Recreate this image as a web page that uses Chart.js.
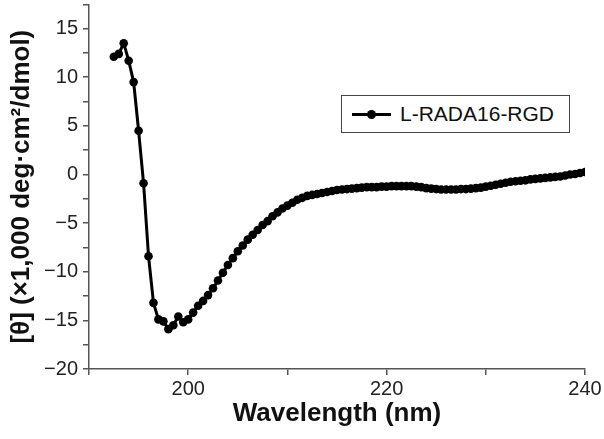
<!DOCTYPE html>
<html>
<head>
<meta charset="utf-8">
<script src="https://cdn.jsdelivr.net/npm/chart.js@4.4.1/dist/chart.umd.min.js"></script>
<style>
  html, body { margin: 0; padding: 0; background: #fff; }
  #wrap { position: relative; width: 604px; height: 439px; }
  #legend { position: absolute; left: 341px; top: 95px; width: 229px; height: 38px;
    border: 1px solid #444; box-sizing: border-box; background: #fff;
    font-family: "Liberation Sans", Arial, sans-serif; font-size: 21px; color: #111; }
  #legend .ln { position: absolute; left: 10px; top: 17px; width: 39px; height: 3px; background: #000; }
  #legend .dot { position: absolute; left: 25px; top: 14px; width: 9px; height: 9px; border-radius: 50%; background: #000; }
  #legend .tx { position: absolute; left: 58px; top: 5px; line-height: 26px; }
</style>
</head>
<body>
<div id="wrap">
  <canvas id="c" width="604" height="439"></canvas>
  <div id="legend"><div class="ln"></div><div class="dot"></div><div class="tx" id="legtext"></div></div>
</div>
<script>
const seriesName = "L-RADA16-RGD";
const wavelength = [
  192.5,193,193.5,194,194.5,195,195.5,196,196.5,197,197.5,198,198.5,199,199.5,200,
  200.5,201,201.5,202,202.5,203,203.5,204,204.5,205,205.5,206,206.5,207,207.5,208,
  208.5,209,209.5,210,210.5,211,211.5,212,212.5,213,213.5,214,214.5,215,215.5,216,
  216.5,217,217.5,218,218.5,219,219.5,220,220.5,221,221.5,222,222.5,223,223.5,224,
  224.5,225,225.5,226,226.5,227,227.5,228,228.5,229,229.5,230,230.5,231,231.5,232,
  232.5,233,233.5,234,234.5,235,235.5,236,236.5,237,237.5,238,238.5,239,239.5,240
];
const ellipticity = [
  12.1,12.4,13.5,11.7,9.5,4.5,-0.9,-8.4,-13.2,-14.9,-15.1,-15.9,-15.5,-14.6,-15.2,-14.9,
  -14.2,-13.5,-13.0,-12.4,-11.7,-10.9,-10.1,-9.3,-8.6,-7.9,-7.3,-6.7,-6.2,-5.7,-5.2,-4.8,
  -4.3,-3.9,-3.5,-3.2,-2.9,-2.6,-2.4,-2.2,-2.1,-2.0,-1.9,-1.8,-1.7,-1.6,-1.55,-1.5,
  -1.45,-1.4,-1.35,-1.3,-1.3,-1.3,-1.25,-1.25,-1.2,-1.2,-1.2,-1.2,-1.2,-1.25,-1.3,-1.4,
  -1.45,-1.5,-1.55,-1.55,-1.55,-1.55,-1.5,-1.5,-1.45,-1.4,-1.35,-1.25,-1.15,-1.05,-0.95,-0.85,
  -0.75,-0.7,-0.65,-0.6,-0.5,-0.45,-0.4,-0.35,-0.3,-0.25,-0.2,-0.1,0.0,0.05,0.15,0.25
];
const xLabels = [200, 220, 240];
const yLabels = [15, 10, 5, 0, -5, -10, -15, -20];
const xTitle = "Wavelength (nm)";
const yTitle = "[\u03B8] (\u00D71,000 deg\u00B7cm\u00B2/dmol)";

document.getElementById('legtext').textContent = seriesName;

const fmt = v => (v < 0 ? '\u2212' + Math.abs(v) : String(v));
const axisColor = '#555';

new Chart(document.getElementById('c'), {
  type: 'line',
  data: {
    datasets: [{
      label: seriesName,
      data: wavelength.map((x, i) => ({ x: x, y: ellipticity[i] })),
      borderColor: '#000',
      backgroundColor: '#000',
      borderWidth: 3,
      pointRadius: 4.3,
      pointBackgroundColor: '#000',
      pointBorderWidth: 0,
      tension: 0
    }]
  },
  options: {
    responsive: false,
    animation: false,
    layout: { padding: { left: 0, right: 19, top: 2, bottom: 0 } },
    plugins: { legend: { display: false }, tooltip: { enabled: false } },
    scales: {
      x: {
        type: 'linear', min: 190, max: 240,
        afterFit: s => { s.height = 70; s.paddingLeft = 0; },
        border: { color: axisColor, width: 1.5 },
        grid: { drawOnChartArea: false, drawTicks: true, tickLength: 6, color: axisColor, lineWidth: 1.5 },
        ticks: {
          stepSize: 10, autoSkip: false, maxRotation: 0, padding: 2,
          color: '#222', font: { family: '"Liberation Sans", Arial, sans-serif', size: 20 },
          callback: v => (xLabels.includes(v) ? fmt(v) : '')
        },
        title: {
          display: true, text: xTitle, color: '#111',
          font: { family: '"Liberation Sans", Arial, sans-serif', size: 26, weight: 'bold' },
          padding: { top: 0, bottom: 10 }
        }
      },
      y: {
        type: 'linear', min: -20, max: 17.5,
        afterFit: s => { s.width = 89; s.paddingTop = 0; s.paddingBottom = 0; },
        border: { color: axisColor, width: 1.5 },
        grid: { drawOnChartArea: false, drawTicks: true, tickLength: 6, color: axisColor, lineWidth: 1.5 },
        ticks: {
          stepSize: 2.5, autoSkip: false, padding: 5,
          color: '#222', font: { family: '"Liberation Sans", Arial, sans-serif', size: 20 },
          callback: v => (yLabels.includes(v) ? fmt(v) : '')
        },
        title: {
          display: true, text: yTitle, color: '#111',
          font: { family: '"Liberation Sans", Arial, sans-serif', size: 26, weight: 'bold' },
          padding: { top: 6, bottom: 0 }
        }
      }
    }
  }
});
</script>
</body>
</html>
